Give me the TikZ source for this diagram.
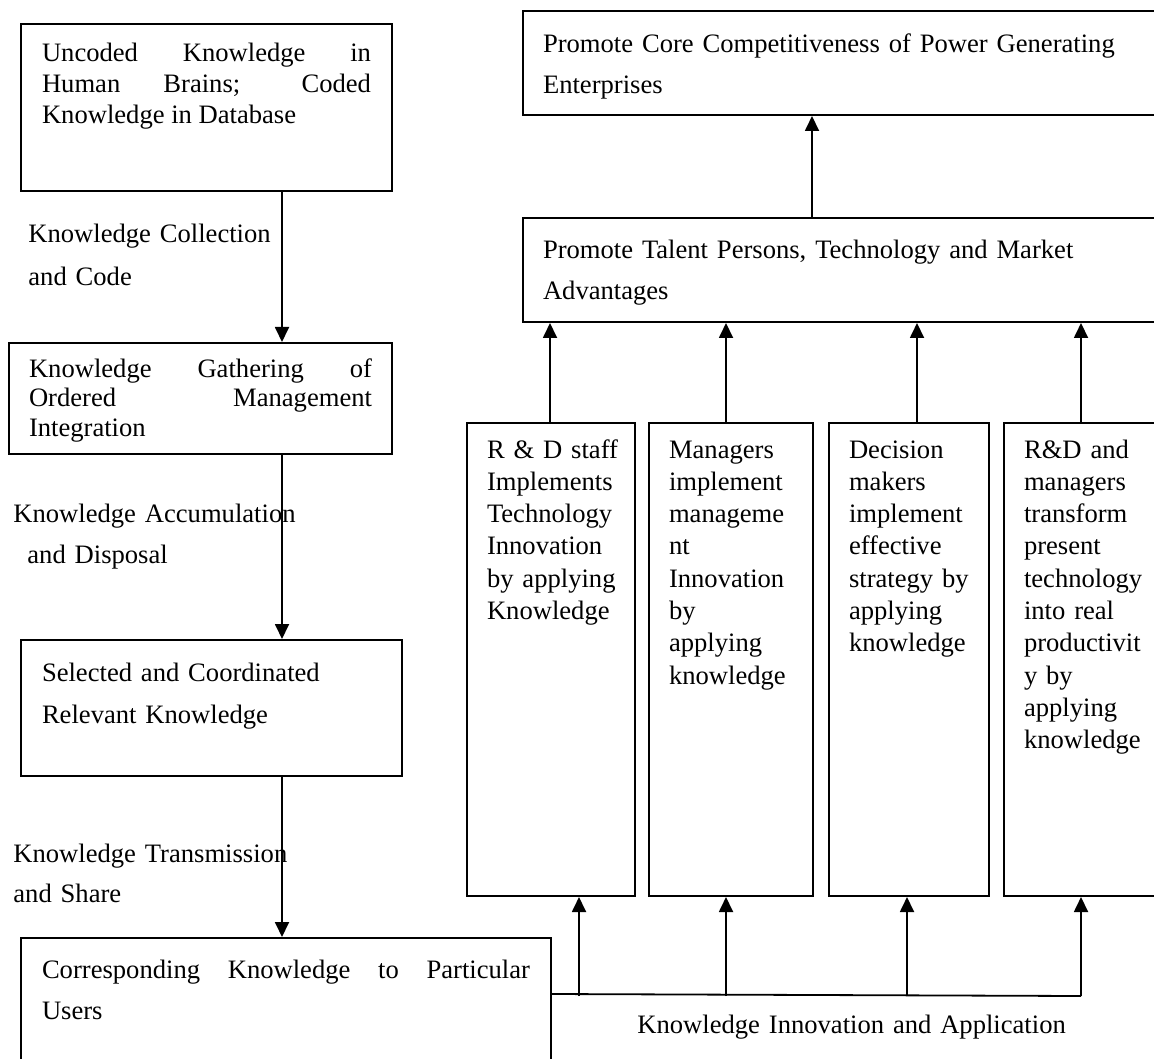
\documentclass[tikz,border=0pt]{standalone}
\usepackage{fontspec}
\setmainfont{Liberation Serif}
\usepackage{tikz}
\usetikzlibrary{calc}
\usetikzlibrary{arrows.meta}
\newcommand{\diagfont}[1]{\fontsize{13.3pt}{#1}\selectfont}
\hyphenpenalty=10000
\exhyphenpenalty=10000

\begin{document}
\begin{tikzpicture}[x=0.5pt,y=-0.5pt]
    \tikzstyle{box}=[draw,line width=1pt,anchor=north west,inner ysep=0pt,inner xsep=10pt]
    \tikzstyle{flow}=[-{Triangle[length=7.5pt,width=7pt]},line width=0.9pt,color=black]
    \tikzstyle{branch}=[line width=0.9pt,color=black]
    \tikzstyle{flow text}=[anchor=base west,inner sep=0pt,align=left,text width=230pt]
    \tikzstyle{column}=[box,align=left,text height=17.5pt,text depth=219pt,font=\diagfont{16.15pt}]

    \useasboundingbox (0,0) rectangle (1154,1058);
    \clip (0,0) rectangle (1154,1058);

    % Left chain
    \node[box,align=justify,text width=164.5pt,inner xsep=10.5pt,text height=19pt,text depth=64.5pt,font=\diagfont{15.5pt}] (uncoded) at (20,23)
        {Uncoded Knowledge in\linebreak Human Brains; Coded\linebreak Knowledge in Database};
    \node[box,align=justify,text width=171.5pt,text height=17.5pt,text depth=38pt,font=\diagfont{14.5pt}] (gather) at (8,342)
        {Knowledge Gathering of\linebreak Ordered Management\linebreak Integration};
    \node[box,align=left,text width=169.5pt,inner xsep=10.5pt,text height=20.5pt,text depth=47.5pt,font=\diagfont{21pt}] (selected) at (20,639)
        {Selected and Coordinated\\Relevant Knowledge};
    \node[box,align=justify,text width=244pt,inner xsep=10.5pt,text height=20pt,text depth=50pt,font=\diagfont{20.5pt}] (users) at (20,937)
        {Corresponding Knowledge to Particular\linebreak Users};

    \node[flow text,font=\diagfont{21.5pt}] (collect) at (28,243) {Knowledge Collection\\and Code};
    \node[flow text,font=\diagfont{20.5pt}] (accum) at (13,522) {Knowledge Accumulation\\\hspace*{7pt}and Disposal};
    \node[flow text,font=\diagfont{20pt}] (transmit) at (13,862) {Knowledge Transmission\\and Share};

    \draw[flow] ($(uncoded.south west)+(262,0)$) -- ($(gather.north west)+(274,0)$);
    \draw[flow] ($(gather.south west)+(274,0)$) -- ($(selected.north west)+(262,0)$);
    \draw[flow] ($(selected.south west)+(262,0)$) -- ($(users.north west)+(262,0)$);

    % Right side
    \node[box,align=left,text width=304pt,text height=21pt,text depth=31pt,font=\diagfont{20.5pt}] (core) at (522,10)
        {Promote Core Competitiveness of Power Generating\\Enterprises};
    \node[box,align=left,text width=304pt,text height=20.5pt,text depth=31.5pt,font=\diagfont{20.5pt}] (talent) at (522,217)
        {Promote Talent Persons, Technology and Market\\Advantages};
    \draw[flow] ($(talent.north west)+(290,0)$) -- ($(core.south west)+(290,0)$);

    % Columns
    \node[column,text width=64pt] (rdstaff) at (466,422)
        {R~\&~D~staff\\Implements\\Technology\\Innovation\\by~applying\\Knowledge};
    \node[column,text width=62pt] (managers) at (648,422)
        {Managers\\implement\\manageme\\nt\\Innovation\\by\\applying\\knowledge};
    \node[column,text width=60pt] (deciders) at (828,422)
        {Decision\\makers\\implement\\effective\\strategy~by\\applying\\knowledge};
    \node[column,text width=65pt] (transform) at (1003,422)
        {R\&D~and\\managers\\transform\\present\\technology\\into~real\\productivit\\y~by\\applying\\knowledge};

    \draw[flow] ($(rdstaff.north west)+(84,0)$) -- ($(talent.south west)+(28,0)$);
    \draw[flow] ($(managers.north west)+(78,0)$) -- ($(talent.south west)+(204,0)$);
    \draw[flow] ($(deciders.north west)+(89,0)$) -- ($(talent.south west)+(395,0)$);
    \draw[flow] ($(transform.north west)+(78,0)$) -- ($(talent.south west)+(559,0)$);

    % Bottom branch
    \coordinate (hub) at ($(users.north east)+(0,57)$);
    \draw[branch] (hub) -- ($(transform.south west)+(78,99)$);
    \draw[flow] ($(rdstaff.south west)+(113,99)$) -- ($(rdstaff.south west)+(113,0)$);
    \draw[flow] ($(managers.south west)+(78,99)$) -- ($(managers.south west)+(78,0)$);
    \draw[flow] ($(deciders.south west)+(79,99)$) -- ($(deciders.south west)+(79,0)$);
    \draw[flow] ($(transform.south west)+(78,99)$) -- ($(transform.south west)+(78,0)$);
    \node[flow text,font=\diagfont{16pt}] (innovate) at (637,1033) {Knowledge Innovation and Application};

\end{tikzpicture}
\end{document}
